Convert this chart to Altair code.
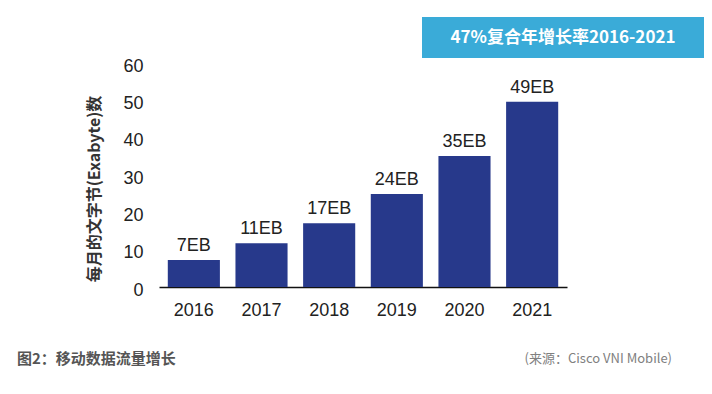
import altair as alt
import pandas as pd

years = ["2016", "2017", "2018", "2019", "2020", "2021"]
values = [7.2, 11.7, 17.1, 24.9, 35.1, 49.6]
labels = ["7EB", "11EB", "17EB", "24EB", "35EB", "49EB"]
y_ticks = [0, 10, 20, 30, 40, 50, 60]
y_title = "每月的文字节(Exabyte)数"
badge_text = "47%复合年增长率2016-2021"
caption_text = "图2：移动数据流量增长"
source_text = "(来源：Cisco VNI Mobile)"

FONT = "Liberation Sans, Arial, Noto Sans CJK SC"
CJK = "Noto Sans CJK SC, Liberation Sans"

df = pd.DataFrame({"year": years, "value": values, "label": labels})
one = pd.DataFrame({"a": [0]})

x_axis = alt.Axis(title=None, labelAngle=0, ticks=False, domainColor="#111111",
                  domainWidth=1.5, labelFontSize=18, labelColor="#222222",
                  labelFont=FONT, labelPadding=14)
y_axis = alt.Axis(title=None, values=y_ticks, grid=False, domain=False, ticks=False,
                  labelFontSize=18, labelColor="#222222", labelFont=FONT,
                  labelPadding=16, labelOffset=3, labelOverlap=False)
x_scale = alt.Scale(paddingInner=0.23, paddingOuter=0.13)
y_scale = alt.Scale(domain=[0, 60], nice=False)

bars = alt.Chart(df).mark_bar(color="#27398b").encode(
    x=alt.X("year:N", sort=years, scale=x_scale, axis=x_axis),
    y=alt.Y("value:Q", scale=y_scale, axis=y_axis))

bar_text = alt.Chart(df).mark_text(dy=-5, baseline="bottom", fontSize=18, color="#222222",
                                   font=FONT).encode(
    x=alt.X("year:N", sort=years, scale=x_scale, axis=x_axis),
    y=alt.Y("value:Q", scale=y_scale, axis=y_axis),
    text="label:N")

ytitle = alt.Chart(one).mark_text(angle=270, fontSize=16, fontWeight="bold", color="#333333",
                                  font=CJK, align="center", baseline="middle").encode(
    x=alt.value(-64), y=alt.value(126), text=alt.value(y_title))

badge = alt.Chart(one).mark_rect(color="#3aabd8").encode(
    x=alt.value(263), x2=alt.value(546), y=alt.value(-46), y2=alt.value(-5))

badge_t = alt.Chart(one).mark_text(fontSize=17, fontWeight="bold", color="white", font=CJK,
                                   align="center", baseline="middle").encode(
    x=alt.value(404), y=alt.value(-25), text=alt.value(badge_text))

caption = alt.Chart(one).mark_text(fontSize=15, fontWeight="bold", color="#555555", font=CJK,
                                   align="left", baseline="middle").encode(
    x=alt.value(-142), y=alt.value(296), text=alt.value(caption_text))

source = alt.Chart(one).mark_text(fontSize=13, color="#808080", font=CJK,
                                  align="right", baseline="middle").encode(
    x=alt.value(513), y=alt.value(296), text=alt.value(source_text))

chart = alt.layer(bars, bar_text, ytitle, badge, badge_t, caption, source).properties(
    width=408, height=224,
    autosize=alt.AutoSizeParams(type="none"),
    padding={"left": 151, "top": 55, "right": 137, "bottom": 99},
    background="white",
).configure_view(stroke=None).configure_axisY(labelOverlap=False)

chart.save("out.html", embed_options={"renderer": "svg", "actions": False})
